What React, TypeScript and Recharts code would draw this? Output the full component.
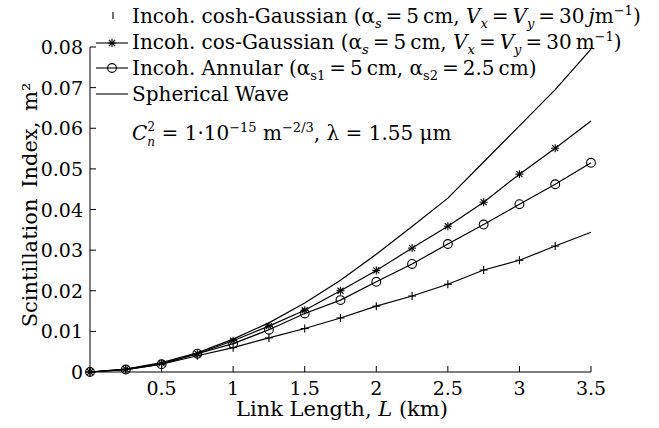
import React from 'react';
import { LineChart, Line, XAxis, YAxis, Legend, Customized } from 'recharts';

// link length (km), sampled every 0.25 km
const lengthKm = [0, 0.25, 0.5, 0.75, 1, 1.25, 1.5, 1.75, 2, 2.25, 2.5, 2.75, 3, 3.25, 3.5];

// scintillation index
const coshGaussian = [0, 0.0006, 0.0019, 0.004, 0.006, 0.0084, 0.0107, 0.0133, 0.0162, 0.0187, 0.0216, 0.0251, 0.0275, 0.031, 0.0344];
const cosGaussian = [0, 0.0007, 0.0021, 0.0045, 0.0077, 0.0113, 0.0152, 0.02, 0.025, 0.0305, 0.0359, 0.0418, 0.0487, 0.0551, 0.0618];
const annular = [0, 0.0006, 0.0019, 0.0045, 0.007, 0.0104, 0.0144, 0.0177, 0.0222, 0.0266, 0.0315, 0.0363, 0.0413, 0.0462, 0.0515];
const spherical = [0, 0.0007, 0.0023, 0.0047, 0.0081, 0.0121, 0.017, 0.0226, 0.029, 0.0358, 0.0428, 0.0517, 0.0606, 0.0695, 0.0795];

const xTicks = [0.5, 1, 1.5, 2, 2.5, 3, 3.5];
const yTicks = [0, 0.01, 0.02, 0.03, 0.04, 0.05, 0.06, 0.07, 0.08];

const chartData = lengthKm.map((L, i) => ({
  L,
  coshGaussian: coshGaussian[i],
  cosGaussian: cosGaussian[i],
  annular: annular[i],
  spherical: spherical[i],
}));

const FONT = '"DejaVu Serif", serif';
const INK = '#000';
const LAST = lengthKm.length - 1;
const TS = '\u2009'; // thin space, the TeX-ish spacing round "="

type Seg = { t: string; it?: boolean; sub?: boolean; sup?: boolean; dx?: number; fs?: number; shift?: number };

function RichText({ x, y, size, segs }: { x: number; y: number; size: number; segs: Seg[] }) {
  let cur = 0;
  return (
    <text x={x} y={y} fontSize={size} fontFamily={FONT} fill={INK}>
      {segs.map((s, i) => {
        const target = s.shift ?? (s.sub ? size * 0.25 : s.sup ? -size * 0.42 : 0);
        const dy = target - cur;
        cur = target;
        return (
          <tspan
            key={i}
            dy={dy}
            dx={s.dx}
            fontStyle={s.it ? 'italic' : undefined}
            fontSize={s.fs ?? (s.sub || s.sup ? size * 0.65 : undefined)}
          >
            {s.t}
          </tspan>
        );
      })}
    </text>
  );
}

function PlusMark({ cx, cy }: { cx: number; cy: number }) {
  return (
    <g stroke={INK} strokeWidth={1.1}>
      <line x1={cx - 4} x2={cx + 4} y1={cy} y2={cy} />
      <line x1={cx} x2={cx} y1={cy - 4} y2={cy + 4} />
    </g>
  );
}

function StarMark({ cx, cy }: { cx: number; cy: number }) {
  return (
    <g stroke={INK} strokeWidth={1.1}>
      <line x1={cx - 4} x2={cx + 4} y1={cy} y2={cy} />
      <line x1={cx} x2={cx} y1={cy - 4} y2={cy + 4} />
      <line x1={cx - 3} x2={cx + 3} y1={cy - 3} y2={cy + 3} />
      <line x1={cx - 3} x2={cx + 3} y1={cy + 3} y2={cy - 3} />
    </g>
  );
}

function CircleMark({ cx, cy }: { cx: number; cy: number }) {
  return <circle cx={cx} cy={cy} r={4.4} fill="none" stroke={INK} strokeWidth={1.1} />;
}

const plusDot = (p: any) =>
  p.index === LAST ? <g key={p.index} /> : <PlusMark key={p.index} cx={p.cx} cy={p.cy} />;
const starDot = (p: any) =>
  p.index === LAST ? <g key={p.index} /> : <StarMark key={p.index} cx={p.cx} cy={p.cy} />;
const circleDot = (p: any) => <CircleMark key={p.index} cx={p.cx} cy={p.cy} />;

function XTick({ x, y, payload }: any) {
  return (
    <g>
      <line x1={x} x2={x} y1={y} y2={y - 6} stroke={INK} />
      <text x={x} y={y + 23} textAnchor="middle" fontSize={19} fontFamily={FONT} fill={INK}>
        {payload.value}
      </text>
    </g>
  );
}

function YTick({ x, y, payload }: any) {
  const v = payload.value as number;
  return (
    <g>
      <line x1={x} x2={x + 6} y1={y} y2={y} stroke={INK} />
      <text x={x - 7} y={y + 7} textAnchor="end" fontSize={19} fontFamily={FONT} fill={INK}>
        {v === 0 ? '0' : v.toFixed(2)}
      </text>
    </g>
  );
}

function LegendBox() {
  const sx = 132;
  const fs = 20;
  return (
    <svg width={659} height={110} style={{ display: 'block' }}>
      <g stroke={INK} strokeWidth={1.1}>
        <line x1={113} x2={113} y1={12} y2={19} />
        <line x1={96} x2={128} y1={43} y2={43} />
        <line x1={96} x2={128} y1={68} y2={68} />
        <line x1={96} x2={128} y1={94} y2={94} />
      </g>
      <StarMark cx={112} cy={43} />
      <CircleMark cx={112} cy={68} />
      <RichText
        x={sx}
        y={23}
        size={fs}
        segs={[
          { t: 'Incoh.  cosh-Gaussian (α' },
          { t: 's', sub: true, it: true },
          { t: `${TS}=${TS}5${TS}cm,  ` },
          { t: 'V', it: true },
          { t: 'x', sub: true, it: true },
          { t: `${TS}=${TS}` },
          { t: 'V', it: true },
          { t: 'y', sub: true, it: true },
          { t: `${TS}=${TS}30${TS}` },
          { t: 'j', it: true },
          { t: 'm' },
          { t: '−1', sup: true },
          { t: ')' },
        ]}
      />
      <RichText
        x={sx}
        y={49}
        size={fs}
        segs={[
          { t: 'Incoh.  cos-Gaussian  (α' },
          { t: 's', sub: true, it: true },
          { t: `${TS}=${TS}5${TS}cm,  ` },
          { t: 'V', it: true },
          { t: 'x', sub: true, it: true },
          { t: `${TS}=${TS}` },
          { t: 'V', it: true },
          { t: 'y', sub: true, it: true },
          { t: `${TS}=${TS}30${TS}m` },
          { t: '−1', sup: true },
          { t: ')' },
        ]}
      />
      <RichText
        x={sx}
        y={75}
        size={fs}
        segs={[
          { t: 'Incoh.  Annular (α' },
          { t: 's1', sub: true },
          { t: `${TS}=${TS}5${TS}cm,  α` },
          { t: 's2', sub: true },
          { t: `${TS}=${TS}2.5${TS}cm)` },
        ]}
      />
      <RichText x={sx} y={101} size={fs} segs={[{ t: 'Spherical  Wave' }]} />
    </svg>
  );
}

function Annotations() {
  return (
    <g>
      <RichText
        x={132}
        y={140}
        size={20}
        segs={[
          { t: 'C', it: true },
          { t: 'n', it: true, fs: 12, shift: 6 },
          { t: '2', fs: 12, shift: -9, dx: -7.5 },
          { t: ' = 1·10', shift: 0 },
          { t: '−15', sup: true },
          { t: ' m' },
          { t: '−2/3', sup: true },
          { t: ', λ = 1.55 μm' },
        ]}
      />
      <text
        transform="translate(37 205) rotate(-90)"
        textAnchor="middle"
        fontSize={21}
        fontFamily={FONT}
        fill={INK}
        wordSpacing={4}
      >
        Scintillation Index, m²
      </text>
      <RichText
        x={236}
        y={416}
        size={21}
        segs={[{ t: 'Link  Length,  ' }, { t: 'L', it: true }, { t: ' (km)' }]}
      />
    </g>
  );
}

export default function App() {
  return (
    <div style={{ position: 'absolute', left: 0, top: 0, width: 659, height: 428, background: '#fff' }}>
      <LineChart
        width={659}
        height={428}
        data={chartData}
        margin={{ top: 47, right: 68, left: 0, bottom: 0 }}
      >
        <XAxis
          dataKey="L"
          type="number"
          domain={[0, 3.5]}
          ticks={xTicks}
          height={56}
          tickSize={0}
          tickMargin={0}
          tickLine={false}
          axisLine={{ stroke: INK, strokeWidth: 1 }}
          tick={<XTick />}
          interval={0}
        />
        <YAxis
          type="number"
          domain={[0, 0.08]}
          ticks={yTicks}
          width={90}
          tickSize={0}
          tickMargin={0}
          tickLine={false}
          axisLine={{ stroke: INK, strokeWidth: 1 }}
          tick={<YTick />}
          interval={0}
        />
        <Legend
          layout="vertical"
          align="center"
          verticalAlign="middle"
          content={() => <LegendBox />}
          wrapperStyle={{ left: 0, top: 0, width: 659, height: 110 }}
        />
        <Line dataKey="spherical" stroke={INK} strokeWidth={1.2} dot={false} isAnimationActive={false} />
        <Line dataKey="cosGaussian" stroke={INK} strokeWidth={1.2} dot={starDot} isAnimationActive={false} />
        <Line dataKey="annular" stroke={INK} strokeWidth={1.2} dot={circleDot} isAnimationActive={false} />
        <Line dataKey="coshGaussian" stroke={INK} strokeWidth={1.2} dot={plusDot} isAnimationActive={false} />
        <Customized component={Annotations} />
      </LineChart>
    </div>
  );
}
